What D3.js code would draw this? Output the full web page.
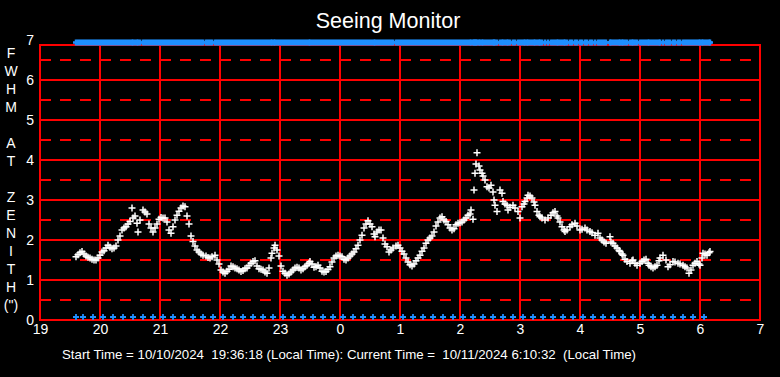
<!DOCTYPE html>
<html>
<head>
<meta charset="utf-8">
<script src="https://cdn.jsdelivr.net/npm/d3@7"></script>
<style>
  body { margin: 0; background: #000; }
  svg { display: block; }
  text { font-family: "Liberation Sans", Arial, sans-serif; fill: #fff; }
</style>
</head>
<body>
<div id="chart"></div>
<script>
// minutes after 19:00 local time, and FWHM seeing (arcsec)
const minutes = [36,38,40,42,44,46,48,50,52,54,56,58,60,62,64,66,68,70,72,74,76,78,80,82,84,86,88,90,92,93,95,97,98,100,103,105,107,109,111,113,115,117,119,121,123,125,127,129,131,133,135,137,139,141,143,145,147,149,151,153,155,157,159,161,163,166,168,170,172,175,177,179,181,183,185,187,189,191,193,195,197,199,201,203,205,207,209,211,213,215,217,219,221,223,225,227,229,231,232,234,235,237,239,241,243,245,247,249,251,253,255,257,259,261,263,265,267,269,270,272,274,276,278,280,282,284,286,288,290,292,294,296,298,300,302,304,306,308,310,312,314,316,318,320,322,324,326,328,330,332,334,335,337,339,341,343,345,347,349,351,353,356,358,360,362,364,366,368,370,372,374,376,378,380,382,384,386,388,390,392,394,396,398,400,402,404,406,408,410,412,414,416,418,420,422,424,426,428,430,431,433,434,435,436,437,439,440,442,443,445,447,449,451,453,454,455,457,460,462,463,465,467,468,470,473,475,478,480,482,484,485,487,488,490,492,494,495,497,499,500,502,505,508,511,513,515,517,518,520,522,524,525,527,530,532,535,537,540,542,545,547,550,552,555,558,560,562,564,566,570,571,573,575,577,579,580,582,583,585,587,590,592,593,595,597,600,602,604,606,608,609,611,613,615,617,619,620,623,626,628,630,633,635,638,640,643,645,647,649,651,653,655,657,659,660,662,663,665,667,669,670];
const fwhm = [1.58,1.63,1.68,1.71,1.65,1.6,1.57,1.55,1.52,1.5,1.5,1.55,1.62,1.7,1.73,1.8,1.87,1.82,1.78,1.8,1.85,2.0,2.1,2.25,2.3,2.33,2.4,2.46,2.8,2.55,2.6,2.42,2.2,2.5,2.75,2.7,2.65,2.4,2.3,2.2,2.3,2.4,2.52,2.56,2.55,2.55,2.45,2.25,2.17,2.33,2.5,2.62,2.72,2.8,2.85,2.83,2.6,2.4,2.1,1.96,1.85,1.75,1.7,1.65,1.62,1.6,1.56,1.55,1.58,1.62,1.5,1.4,1.25,1.2,1.17,1.22,1.27,1.35,1.33,1.3,1.28,1.25,1.21,1.24,1.28,1.3,1.36,1.42,1.46,1.48,1.35,1.28,1.27,1.25,1.2,1.17,1.3,1.55,1.67,1.8,1.87,1.75,1.6,1.35,1.22,1.17,1.12,1.15,1.2,1.25,1.3,1.32,1.3,1.25,1.28,1.33,1.37,1.42,1.46,1.4,1.32,1.33,1.37,1.3,1.22,1.2,1.21,1.26,1.33,1.45,1.55,1.6,1.62,1.6,1.58,1.52,1.5,1.55,1.6,1.65,1.7,1.78,1.87,2.0,2.12,2.3,2.4,2.48,2.4,2.33,2.15,2.08,2.2,2.25,2.25,2.05,1.9,1.83,1.7,1.75,1.8,1.85,1.87,1.8,1.72,1.65,1.55,1.45,1.38,1.35,1.4,1.48,1.55,1.62,1.72,1.8,1.92,2.0,2.05,2.1,2.2,2.35,2.45,2.55,2.58,2.5,2.46,2.38,2.3,2.25,2.28,2.38,2.42,2.43,2.45,2.5,2.55,2.62,2.65,2.75,2.52,3.25,3.67,3.9,4.18,3.85,3.75,3.67,3.6,3.5,3.33,3.3,3.37,3.2,3.0,2.87,2.71,3.25,3.17,2.96,2.9,2.87,2.75,2.82,2.87,2.8,2.71,2.55,2.83,2.9,2.96,3.05,3.12,3.1,3.05,2.95,2.87,2.71,2.62,2.58,2.55,2.5,2.55,2.62,2.68,2.71,2.6,2.55,2.45,2.33,2.25,2.21,2.25,2.33,2.38,2.42,2.35,2.25,2.27,2.3,2.25,2.21,2.18,2.12,2.17,2.05,2.0,1.95,1.92,2.08,1.95,1.92,1.85,1.8,1.74,1.71,1.65,1.62,1.52,1.46,1.42,1.48,1.5,1.42,1.37,1.42,1.46,1.5,1.52,1.42,1.37,1.33,1.3,1.33,1.37,1.48,1.55,1.62,1.5,1.33,1.38,1.46,1.45,1.42,1.4,1.37,1.33,1.3,1.17,1.25,1.37,1.42,1.46,1.4,1.37,1.55,1.67,1.65,1.62,1.68,1.71];
// status markers along the bottom (minutes after 19:00)
const bottomMarks = [36,43,53,63,73,83,93,103,113,123,133,143,153,163,173,183,193,203,213,223,233,243,253,263,273,283,293,303,313,323,333,343,353,363,373,383,393,403,413,423,433,443,453,463,473,483,493,503,513,523,533,543,553,563,573,583,593,603,613,623,633,643,653,664];
const hourLabels = ["19","20","21","22","23","0","1","2","3","4","5","6","7"];
const yTicks = [0,1,2,3,4,5,6,7];
const yLetters = ["F","W","H","M","","A","T","","Z","E","N","I","T","H","(\")"];
const footer = "Start Time = 10/10/2024  19:36:18 (Local Time): Current Time =  10/11/2024 6:10:32  (Local Time)";

const width = 780, height = 377;
const plotL = 40, plotR = 760, plotT = 45, plotB = 320;

const svg = d3.select("#chart").append("svg")
  .attr("width", width).attr("height", height);
svg.append("rect").attr("width", width).attr("height", height).attr("fill", "#000");

const x = d3.scaleLinear().domain([0, 720]).range([plotL, plotR]);
const y = d3.scaleLinear().domain([0, 7]).range([320, 40]);

const red = "#ff0000";
const grid = svg.append("g");

// dashed half-unit lines
grid.selectAll(".half").data([0.5,1.5,2.5,3.5,4.5,5.5,6.5]).enter()
  .append("line")
  .attr("x1", plotL).attr("x2", plotR)
  .attr("y1", d => y(d)).attr("y2", d => y(d))
  .attr("stroke", red).attr("stroke-width", 2)
  .attr("stroke-dasharray", "11,9");

// solid unit lines
grid.selectAll(".whole").data([1,2,3,4,5,6]).enter()
  .append("line")
  .attr("x1", plotL).attr("x2", plotR)
  .attr("y1", d => y(d)).attr("y2", d => y(d))
  .attr("stroke", red).attr("stroke-width", 2);

// hour lines
grid.selectAll(".hour").data(d3.range(60, 720, 60)).enter()
  .append("line")
  .attr("x1", d => x(d)).attr("x2", d => x(d))
  .attr("y1", plotT).attr("y2", plotB)
  .attr("stroke", red).attr("stroke-width", 2);

// frame
grid.append("rect")
  .attr("x", plotL).attr("y", plotT)
  .attr("width", plotR - plotL).attr("height", plotB - plotT)
  .attr("fill", "none").attr("stroke", red).attr("stroke-width", 2);

function plus(s) {
  return "M" + (-s) + ",0H" + s + "M0," + (-s) + "V" + s;
}

const blue = "#1e8fff";

// top status band
svg.append("g").selectAll("path").data(minutes).enter()
  .append("path")
  .attr("d", plus(3))
  .attr("transform", d => "translate(" + x(d) + "," + (y(7) + 2.5) + ")")
  .attr("stroke", blue).attr("stroke-width", 2.5).attr("fill", "none");

// bottom status markers
svg.append("g").selectAll("path").data(bottomMarks).enter()
  .append("path")
  .attr("d", plus(3))
  .attr("transform", d => "translate(" + x(d) + "," + (y(0) - 3) + ")")
  .attr("stroke", blue).attr("stroke-width", 1.8).attr("fill", "none");

// seeing points
svg.append("g").selectAll("path").data(minutes).enter()
  .append("path")
  .attr("d", plus(3.5))
  .attr("transform", (d, i) => "translate(" + x(d) + "," + y(fwhm[i]) + ")")
  .attr("stroke", "#fff").attr("stroke-width", 1.5).attr("fill", "none");

// axes
const xAxis = d3.axisBottom(x)
  .tickValues(d3.range(0, 721, 60))
  .tickFormat((d, i) => hourLabels[i])
  .tickSize(0).tickPadding(4);
const gx = svg.append("g").attr("transform", "translate(0," + plotB + ")").call(xAxis);
gx.select(".domain").remove();
gx.selectAll("text").style("font-size", "14px").attr("fill", "#fff")
  .style("font-family", "'Liberation Sans', Arial, sans-serif");

const yAxis = d3.axisLeft(y).tickValues(yTicks).tickFormat(d3.format("d"))
  .tickSize(0).tickPadding(6);
const gy = svg.append("g").attr("transform", "translate(" + plotL + ",0)").call(yAxis);
gy.select(".domain").remove();
gy.selectAll("text").style("font-size", "14px").attr("fill", "#fff")
  .style("font-family", "'Liberation Sans', Arial, sans-serif");

// title
svg.append("text")
  .attr("x", 388).attr("y", 28)
  .attr("text-anchor", "middle")
  .style("font-size", "21.5px")
  .text("Seeing Monitor");

// vertical letter label
svg.append("g").selectAll("text").data(yLetters).enter()
  .append("text")
  .attr("x", 11).attr("y", (d, i) => 53 + i * 18)
  .attr("dy", "0.35em")
  .attr("text-anchor", "middle")
  .style("font-size", "14px")
  .text(d => d);

// footer
svg.append("text")
  .attr("x", 62).attr("y", 359)
  .attr("textLength", 574).attr("lengthAdjust", "spacingAndGlyphs")
  .style("font-size", "13.5px")
  .style("white-space", "pre")
  .attr("xml:space", "preserve")
  .text(footer);
</script>
</body>
</html>
